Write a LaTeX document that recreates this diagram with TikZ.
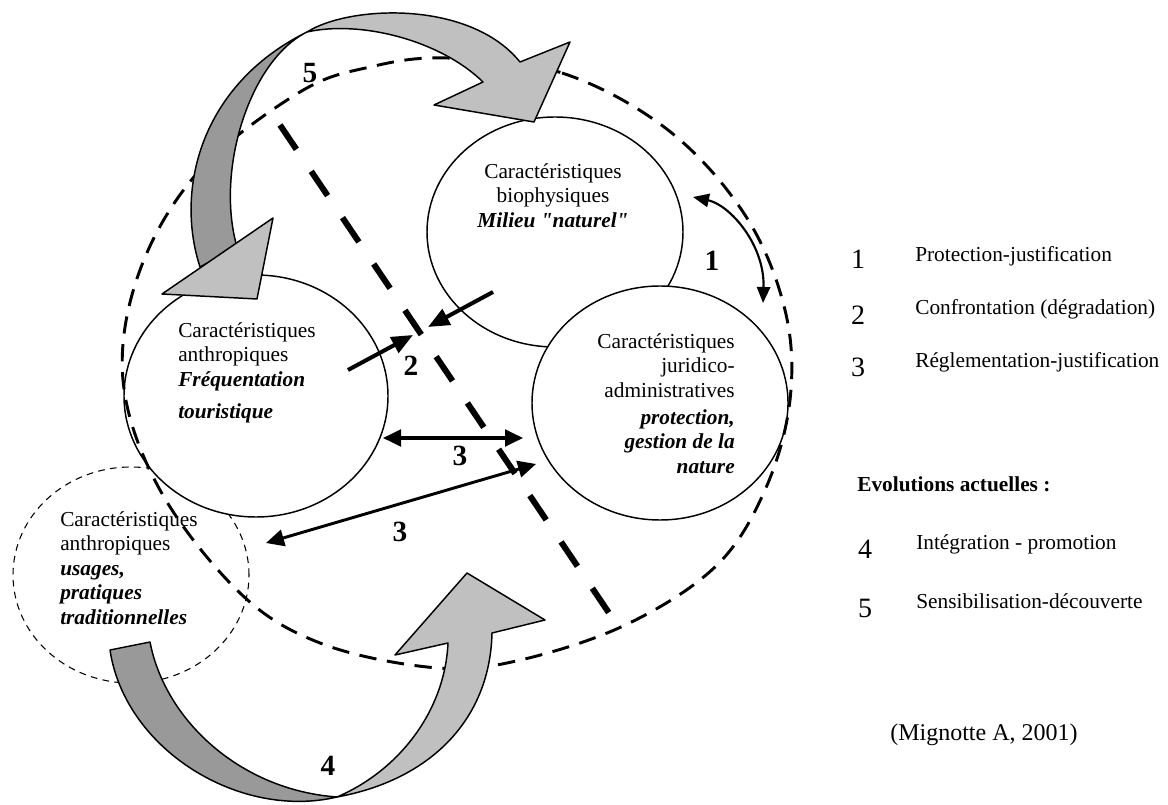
\documentclass[tikz,border=0pt]{standalone}
\usepackage{fontspec}
\setmainfont{Liberation Serif}
\newfontfamily\litteral{Liberation Serif}[Ligatures=TeXOff]
\usetikzlibrary{shapes.geometric,arrows.meta}
\definecolor{grisclair}{HTML}{C0C0C0}
\definecolor{grisfonce}{HTML}{999999}
\begin{document}
\begin{tikzpicture}[x=0.75pt, y=-0.75pt,
  cercle/.style={ellipse, draw=black, fill=white, line width=1.1pt, inner sep=0pt},
  texte/.style={font=\fontsize{16}{18.4}\selectfont, inner sep=0pt},
  chiffre/.style={font=\fontsize{22}{26}\selectfont\bfseries, inner sep=0pt},
  legnum/.style={font=\fontsize{21}{24}\selectfont, inner sep=0pt, anchor=base},
  legtexte/.style={font=\fontsize{16}{18}\selectfont, inner sep=0pt, anchor=base west},
  ruban/.style={draw=black, line width=1.1pt, line join=round}]
\useasboundingbox (0,0) rectangle (1168,805);
\clip (0,0) rectangle (1168,805);
\node [cercle, minimum width=177pt, minimum height=162pt, line width=0.8pt,
  dash pattern=on 5pt off 4pt] (usages) at (131,575) {};
\node [cercle, minimum width=192pt, minimum height=172.5pt] (bio) at (555,232) {};
\node [cercle, minimum width=192pt, minimum height=175.5pt] (jurid) at (660,403) {};
\node [cercle, minimum width=198pt, minimum height=181.5pt] (anthro) at (256,396) {};
\draw [line width=2.2pt, dash pattern=on 13pt off 8pt] plot [smooth cycle, tension=0.6]
  coordinates {(447,58) (562,73) (668,130) (745,215) (785,310) (790,400) (765,490)
  (715,567) (621,627) (507,663) (427,667) (320,643) (240,593) (160,490) (123,380)
  (140,270) (200,170) (300,92) (370,67)};
\coordinate (d1) at (280,125);
\coordinate (d2) at (609,613);
\draw [line width=4.5pt, dash pattern=on 22pt off 19.9pt] (d1) -- (d2);
\coordinate (p1a) at (693,197);
\coordinate (p1b) at (763,303);
\draw [line width=1.6pt, {Triangle[length=12pt,width=10pt]}-{Triangle[length=12pt,width=10pt]}]
  (p1a) .. controls (730,205) and (765,245) .. (p1b);
\coordinate (p2a) at (493,292);
\coordinate (p2b) at (428,327);
\coordinate (p2c) at (348,370);
\coordinate (p2d) at (413,335);
\draw [line width=3pt, -{Triangle[length=16pt,width=13pt]}] (p2a) -- (p2b);
\draw [line width=3pt, -{Triangle[length=16pt,width=13pt]}] (p2c) -- (p2d);
\coordinate (p3a) at (383,438);
\coordinate (p3b) at (523,438);
\coordinate (p3c) at (266,543);
\coordinate (p3d) at (536,464);
\draw [line width=2.4pt, {Triangle[length=13.5pt,width=12.5pt]}-{Triangle[length=13.5pt,width=12.5pt]}]
  (p3a) -- (p3b);
\draw [line width=2.2pt, {Triangle[length=13.5pt,width=12.5pt]}-{Triangle[length=13.5pt,width=12.5pt]}]
  (p3c) -- (p3d);
\filldraw [ruban, fill=grisclair] (307,32) .. controls (350,5) and (470,0) .. (520,62)
  -- (570,42) -- (534,122) -- (434,105) -- (483,82)
  .. controls (440,40) and (360,20) .. (307,32) -- cycle;
\filldraw [ruban, fill=grisfonce] (200,267) .. controls (175,190) and (200,85) .. (307,32)
  .. controls (250,60) and (215,170) .. (237,247) -- cycle;
\filldraw [ruban, fill=grisclair] (162,294) -- (257,299) -- (273,218) -- cycle;
\filldraw [ruban, fill=grisfonce] (110,650) -- (150,642)
  .. controls (165,720) and (240,790) .. (337,797)
  .. controls (240,820) and (125,750) .. (110,650) -- cycle;
\filldraw [ruban, fill=grisclair] (337,797) .. controls (400,770) and (445,710) .. (448,643)
  -- (395,655) -- (467,573) -- (545,620) -- (492,633)
  .. controls (490,720) and (430,780) .. (337,797) -- cycle;
\node [texte, anchor=north, align=center] (tbio) at (553,163)
  {Caractéristiques\\biophysiques\\\textbf{\textit{Milieu {\litteral"}naturel{\litteral"}}}};
\node [texte, anchor=north west, align=left] (tanthro) at (178,322)
  {Caractéristiques\\anthropiques\\\textbf{\textit{Fréquentation}}\\[6pt]\textbf{\textit{touristique}}};
\node [texte, anchor=north east, align=right] (tjurid) at (735,333)
  {Caractéristiques\\juridico-\\administratives\\[2pt]\textbf{\textit{protection,}}\\\textbf{\textit{gestion de la}}\\\textbf{\textit{nature}}};
\node [texte, anchor=north west, align=left] (tusages) at (60,511)
  {Caractéristiques\\anthropiques\\\textbf{\textit{usages,}}\\\textbf{\textit{pratiques}}\\\textbf{\textit{traditionnelles}}};
\node [chiffre] (n1) at (712,261) {1};
\node [chiffre] (n2) at (411,366) {2};
\node [chiffre] (n3a) at (460,456) {3};
\node [chiffre] (n3b) at (400,532) {3};
\node [chiffre] (n4) at (328,766) {4};
\node [chiffre] (n5) at (310,73) {5};
\node [legnum] (l1) at (858,269) {1};
\node [legnum] (l2) at (858,325) {2};
\node [legnum] (l3) at (858,377) {3};
\node [legtexte] (e1) at (915,262) {Protection-justification};
\node [legtexte] (e2) at (915,315) {Confrontation (dégradation)};
\node [legtexte] (e3) at (915,368) {Réglementation-justification};
\node [legtexte, font=\fontsize{16}{18}\selectfont\bfseries] (evol) at (857,492) {Evolutions actuelles :};
\node [legnum] (l4) at (865,558) {4};
\node [legnum] (l5) at (865,617) {5};
\node [legtexte] (e4) at (916,550) {Intégration - promotion};
\node [legtexte] (e5) at (916,608) {Sensibilisation-découverte};
\node [legtexte, font=\fontsize{18}{20}\selectfont] (source) at (890,740) {(Mignotte A, 2001)};
\end{tikzpicture}
\end{document}
